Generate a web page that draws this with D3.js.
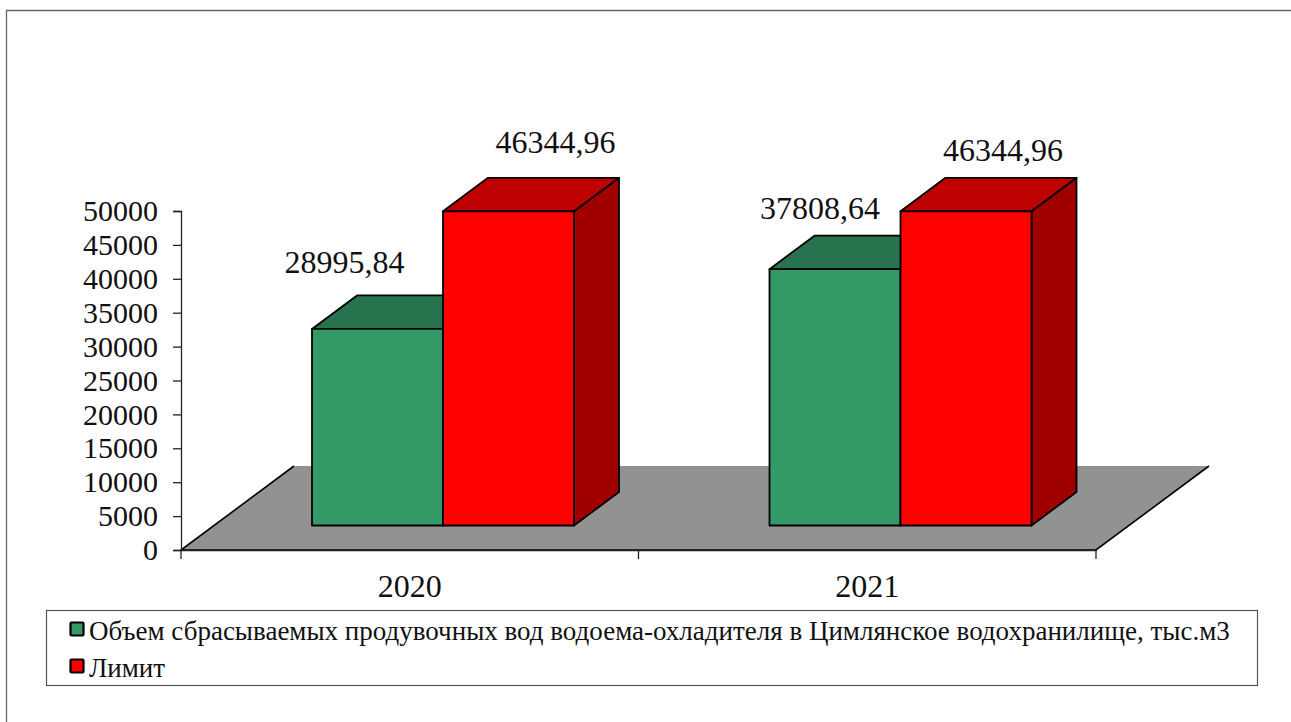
<!DOCTYPE html>
<html lang="ru">
<head>
<meta charset="utf-8">
<script src="https://cdn.jsdelivr.net/npm/d3@7"></script>
<style>
    html, body { margin: 0; padding: 0; background: #fff; overflow: hidden; }
    svg { display: block; font-family: "Liberation Serif", serif; fill: #111; }
    .axis path, .axis line { stroke: #222; stroke-width: 1.3; }
    .axis text { font-family: "Liberation Serif", serif; fill: #111; }
</style>
</head>
<body>
<div id="vis"></div>
<script>
const years = ["2020", "2021"];
const seriesNames = [
    "Объем сбрасываемых продувочных вод водоема-охладителя в Цимлянское водохранилище, тыс.м3",
    "Лимит"
];
const volumeValues = [28995.84, 37808.64];
const limitValues = [46344.96, 46344.96];
const volumeLabels = ["28995,84", "37808,64"];
const limitLabels = ["46344,96", "46344,96"];
const yTicks = [0, 5000, 10000, 15000, 20000, 25000, 30000, 35000, 40000, 45000, 50000];

const CONFIG = {
    w: 1291,
    h: 722,
    plot: { left: 181, right: 1096, top: 211, bottom: 550 },
    floor: { dx: 113, dy: -84 },
    bar: { shiftY: -24.5, dx: 45, dy: -33.5 },
    colors: [
        { front: "#339966", top: "#26734D", side: "#1F5C3D" },
        { front: "#FF0000", top: "#BF0000", side: "#A00000" }
    ]
};

const svg = d3.select("#vis")
    .append("svg")
    .attr("width", CONFIG.w)
    .attr("height", CONFIG.h);

const xScale = d3.scaleBand()
    .domain(years)
    .range([CONFIG.plot.left, CONFIG.plot.right]);

const yScale = d3.scaleLinear()
    .domain([0, 50000])
    .range([CONFIG.plot.bottom, CONFIG.plot.top]);

// two bars per year, measured from the left edge of the year's band
const seriesScale = d3.scaleBand()
    .domain([0, 1])
    .range([131, 393]);

// outer frame, runs off the right and bottom of the picture
svg.append("path")
    .attr("d", `M6.5,${CONFIG.h} V10.5 H${CONFIG.w}`)
    .attr("fill", "none")
    .attr("stroke", "#666")
    .attr("stroke-width", 1.3);

// floor
const { left, right, bottom } = CONFIG.plot;
svg.append("path")
    .attr("d", d3.line()([
        [left, bottom],
        [right, bottom],
        [right + CONFIG.floor.dx, bottom + CONFIG.floor.dy],
        [left + CONFIG.floor.dx, bottom + CONFIG.floor.dy]
    ]) + "Z")
    .attr("fill", "#929292");

svg.append("path")
    .attr("d", d3.line()([
        [left + CONFIG.floor.dx, bottom + CONFIG.floor.dy],
        [left, bottom],
        [right, bottom],
        [right + CONFIG.floor.dx, bottom + CONFIG.floor.dy]
    ]))
    .attr("fill", "none")
    .attr("stroke", "#000")
    .attr("stroke-width", 1.6);

const yAxis = svg.append("g")
    .attr("class", "axis")
    .attr("transform", `translate(${left},0)`)
    .call(d3.axisLeft(yScale).tickValues(yTicks).tickFormat(d3.format("d")).tickSize(8).tickPadding(15));
yAxis.selectAll("text").attr("font-size", 30);

const xAxis = svg.append("g")
    .attr("class", "axis")
    .attr("transform", `translate(0,${bottom})`)
    .call(d3.axisBottom(xScale).tickSize(0).tickPadding(24));
xAxis.selectAll("text").attr("font-size", 32).attr("dx", 0);

// the category ticks sit between the years, not under them
xAxis.selectAll(".edge")
    .data([left, left + xScale.bandwidth(), right])
    .join("line")
    .attr("class", "edge")
    .attr("x1", d => d)
    .attr("x2", d => d)
    .attr("y1", 0)
    .attr("y2", 9);

function drawBar(year, seriesIndex, value) {
    const c = CONFIG.colors[seriesIndex];
    const x0 = xScale(year) + seriesScale(seriesIndex);
    const x1 = x0 + seriesScale.bandwidth();
    const y0 = yScale(0) + CONFIG.bar.shiftY;
    const y1 = yScale(value) + CONFIG.bar.shiftY;
    const dx = CONFIG.bar.dx;
    const dy = CONFIG.bar.dy;

    const faces = [
        { fill: c.side, pts: [[x1, y0], [x1 + dx, y0 + dy], [x1 + dx, y1 + dy], [x1, y1]] },
        { fill: c.top, pts: [[x0, y1], [x1, y1], [x1 + dx, y1 + dy], [x0 + dx, y1 + dy]] },
        { fill: c.front, pts: [[x0, y0], [x1, y0], [x1, y1], [x0, y1]] }
    ];

    svg.append("g").selectAll("path")
        .data(faces)
        .join("path")
        .attr("d", d => d3.line()(d.pts) + "Z")
        .attr("fill", d => d.fill)
        .attr("stroke", "#000")
        .attr("stroke-width", 1.8)
        .attr("stroke-linejoin", "round");
}

years.forEach((year, i) => {
    drawBar(year, 0, volumeValues[i]);
    drawBar(year, 1, limitValues[i]);
});

// value labels were moved by hand in the original, so each one has its own offset
const labelRows = [
    { year: years[0], series: 0, value: volumeValues[0], text: volumeLabels[0], dx: -33, dy: -80 },
    { year: years[1], series: 0, value: volumeValues[1], text: volumeLabels[1], dx: -15, dy: -75 },
    { year: years[0], series: 1, value: limitValues[0], text: limitLabels[0], dx: 47, dy: -83 },
    { year: years[1], series: 1, value: limitValues[1], text: limitLabels[1], dx: 37, dy: -75 }
];

svg.selectAll(".value-label")
    .data(labelRows)
    .join("text")
    .attr("class", "value-label")
    .attr("x", d => xScale(d.year) + seriesScale(d.series) + seriesScale.bandwidth() / 2 + d.dx)
    .attr("y", d => yScale(d.value) + d.dy)
    .attr("text-anchor", "middle")
    .attr("font-size", 32)
    .text(d => d.text);

// legend
const legend = svg.append("g");

legend.append("rect")
    .attr("x", 46.5)
    .attr("y", 610.5)
    .attr("width", 1211)
    .attr("height", 75)
    .attr("fill", "#fff")
    .attr("stroke", "#555")
    .attr("stroke-width", 1.2);

const legendItems = legend.selectAll(".legend-item")
    .data(seriesNames)
    .join("g")
    .attr("class", "legend-item")
    .attr("transform", (d, i) => `translate(0,${632 + i * 37})`);

legendItems.append("rect")
    .attr("x", 70.5)
    .attr("y", -9.5)
    .attr("width", 13)
    .attr("height", 13)
    .attr("rx", 1)
    .attr("fill", (d, i) => CONFIG.colors[i].front)
    .attr("stroke", "#000")
    .attr("stroke-width", 2.2);

legendItems.append("text")
    .attr("x", 89)
    .attr("y", 8)
    .attr("font-size", 27)
    .text(d => d);
</script>
</body>
</html>
